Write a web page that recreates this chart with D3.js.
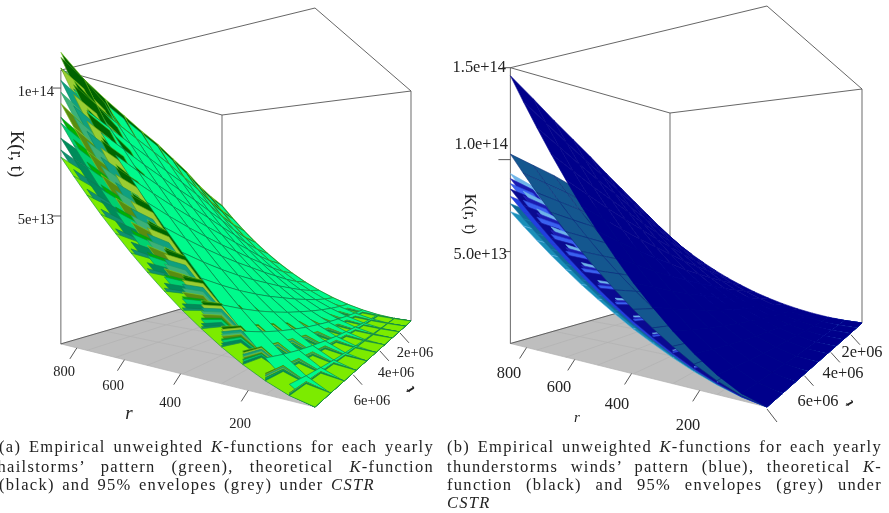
<!DOCTYPE html>
<html><head><meta charset="utf-8"><script src="https://d3js.org/d3.v7.min.js"></script>
<style>html,body{margin:0;padding:0;background:#fff}svg{display:block;filter:blur(.35px)}text{font-family:"Liberation Serif",serif;fill:#222}</style></head>
<body><svg id="c" width="889" height="513"></svg>
<script>
// axes
const rTicks=[800,600,400,200];
const tTicks=[2e6,4e6,6e6];
const rNodes=[35,95,155,215,275,335,395,455,515,575,635,695,755,815,875];
const tNodes=[0.5e6,1.25e6,2e6,2.75e6,3.5e6,4.25e6,5e6,5.75e6,6.5e6,7.25e6,8e6];
// share of K(r_max,t) reached at each r (rows: t nodes, columns: r nodes)
const shape=[
[0,.005,.02,.046,.082,.128,.184,.25,.327,.413,.51,.617,.735,.862,1],
[0,.006,.022,.05,.087,.134,.192,.259,.336,.423,.519,.625,.74,.866,1],
[0,.007,.025,.054,.093,.141,.2,.268,.345,.432,.528,.632,.746,.869,1],
[0,.008,.027,.058,.098,.149,.209,.277,.355,.442,.537,.64,.752,.872,1],
[0,.009,.03,.063,.105,.157,.218,.287,.365,.451,.546,.648,.758,.875,1],
[0,.01,.033,.068,.112,.165,.227,.297,.375,.461,.555,.656,.764,.878,1],
[0,.011,.036,.073,.119,.174,.237,.308,.386,.472,.565,.664,.77,.882,1],
[0,.013,.04,.079,.127,.183,.247,.318,.397,.482,.574,.672,.776,.885,1],
[0,.015,.044,.085,.135,.193,.258,.33,.408,.493,.584,.68,.782,.888,1],
[0,.017,.049,.092,.143,.203,.269,.342,.42,.504,.594,.688,.788,.892,1],
[0,.019,.054,.099,.153,.214,.28,.354,.432,.515,.604,.696,.794,.895,1]];
// same, for the bright surface, which rises earlier at small r
const shapeBright=[
[0,.005,.02,.046,.082,.128,.184,.25,.327,.413,.51,.617,.735,.862,1],
[0,.006,.024,.052,.09,.138,.197,.264,.341,.428,.525,.629,.744,.868,1],
[0,.008,.028,.059,.1,.15,.211,.279,.357,.443,.539,.642,.753,.873,1],
[0,.01,.033,.067,.11,.163,.225,.295,.373,.459,.554,.654,.763,.878,1],
[0,.012,.038,.075,.122,.177,.241,.312,.39,.476,.569,.667,.772,.883,1],
[0,.015,.044,.085,.135,.193,.258,.33,.408,.493,.584,.68,.782,.888,1],
[0,.018,.052,.096,.149,.209,.276,.349,.427,.511,.6,.693,.791,.894,1],
[0,.022,.061,.109,.165,.227,.295,.369,.447,.529,.616,.707,.801,.899,1],
[0,.028,.071,.123,.182,.246,.316,.39,.467,.548,.633,.72,.811,.904,1],
[0,.034,.083,.139,.201,.268,.338,.412,.488,.568,.65,.735,.821,.91,1],
[0,.042,.097,.158,.222,.291,.362,.435,.511,.589,.668,.749,.831,.915,1]];
// K at r_max for each t node, units 1e14, one list per yearly surface
const hail1=[.19,.21,.24,.28,.32,.39,.46,.55,.62,.68,.73];
const hail2=[.20,.22,.25,.29,.33,.40,.48,.57,.64,.70,.758];
const hail3=[.21,.23,.27,.31,.35,.43,.51,.60,.68,.75,.804];
const hail4=[.22,.25,.28,.33,.38,.46,.54,.65,.73,.80,.863];
const hail5=[.23,.26,.29,.34,.39,.47,.56,.66,.75,.82,.886];
const hail6=[.24,.27,.31,.36,.41,.50,.59,.71,.80,.87,.94];
const hail7=[.26,.29,.32,.37,.43,.52,.62,.74,.84,.92,.984];
const hail8=[.27,.30,.34,.40,.47,.57,.68,.80,.90,.97,1.03];
const hail9=[.28,.31,.36,.42,.51,.62,.73,.85,.95,1.02,1.078];
const hail10=[.30,.33,.38,.45,.54,.65,.77,.88,.98,1.06,1.12];
const hail11=[.535,.58,.64,.71,.77,.83,.88,.93,.98,1.03,1.078];
const hail12=[.54,.59,.65,.72,.78,.84,.89,.945,1.0,1.06,1.14];
const hailSeries=[hail12,hail11,hail10,hail9,hail8,hail7,hail6,hail5,hail4,hail3,hail2,hail1];
const hailTable=[shape,shapeBright,shape,shape,shape,shape,shape,shape,shape,shape,shape,shape];
const hailFill=["#006400","#00FA8C","#006400","#9ACD32","#10A080","#3CB078","#5a8c10","#00B000","#00D070","#008B5A","#0f9070","#7CEB00"];
const hailLine=["#7fd020","#0b7a4a","#4a9a10","#6aa010","#0a8a60","#20a060","#7fc820","#0a8a30","#0a8a50","#0a7a50","#0a7a50","#0f8f3c"];
const wind1=[.22,.27,.32,.37,.42,.47,.52,.57,.62,.67,.717];
const wind2=[.23,.28,.34,.39,.45,.50,.56,.61,.66,.71,.76];
const wind3=[.24,.30,.36,.41,.47,.53,.59,.64,.70,.75,.80];
const wind4=[.25,.31,.37,.43,.49,.55,.61,.67,.73,.79,.84];
const wind5=[.26,.32,.39,.45,.51,.58,.64,.70,.76,.82,.87];
const wind6=[.27,.33,.40,.46,.53,.59,.66,.72,.78,.84,.897];
const wind7=[.27,.34,.41,.48,.54,.61,.67,.74,.80,.86,.924];
const wind8=[.15,.18,.22,.28,.46,.66,.78,.87,.93,.98,1.03];
const wind9=[.495,.59,.685,.78,.875,.97,1.07,1.165,1.26,1.36,1.456];
const windSeries=[wind7,wind1,wind2,wind6,wind3,wind5,wind4,wind8,wind9];
const windTable=[shape,shape,shape,shape,shape,shape,shape,shape,shape];
const windFill=["#6db4ea","#1a8fb8","#0e6a9a","#1a1ab0","#2040e0","#3a60f0","#0a0a90","#14578f","#00008b"];
const windLine=["#6db4ea","#5ab0e0","#1a7aa8","#2a2ac0","#2a3ad0","#2a4ad8","#1a1aa0","#0b2f7a","#00008b"];

const svg=d3.select("#c");
function panel(o){
  const g=svg.append("g");
  const su=d3.scaleLinear().domain([35,875]).range([0,1]);
  const sv=d3.scaleLinear().domain([0.5e6,8e6]).range([0,1]);
  const sz=d3.scaleLinear().domain([0,o.zMax]).range([0,1]);
  const wD=1/o.D[2],wC=1/o.C[2],wB=1/o.B[2];
  const W=(u,v)=>wD*(1-u-v)+wC*v+wB*u;
  const P=(r,t,k)=>{const u=su(r),v=sv(t),w=W(u,v),a=wD*(1-u-v),b=wC*v,c=wB*u;
    const x=(a*o.D[0]+b*o.C[0]+c*o.B[0])/w,y=(a*o.D[1]+b*o.C[1]+c*o.B[1])/w;
    return [x,y-sz(k)/w];};
  const line=d3.line();
  const r0=rNodes[0],r1=rNodes[14],t0=tNodes[0],t1=tNodes[10];
  // floor
  g.append("path").attr("d",line([P(r0,t0,0),P(r1,t0,0),P(r1,t1,0),P(r0,t1,0)])+"Z").attr("fill","#bebebe");
  rNodes.filter((d,i)=>i%2==0).forEach(r=>g.append("path").attr("d",line([P(r,t0,0),P(r,t1,0)])).attr("stroke","#b2b2b2").attr("stroke-width",.7).attr("fill","none"));
  tNodes.filter((d,i)=>i%2==0).forEach(t=>g.append("path").attr("d",line([P(r0,t,0),P(r1,t,0)])).attr("stroke","#b2b2b2").attr("stroke-width",.7).attr("fill","none"));
  // box
  const zt=o.zMax;
  [[[r1,t1,0],[r1,t1,zt]],[[r1,t0,0],[r1,t0,zt]],[[r0,t0,0],[r0,t0,zt]]].forEach(s=>g.append("path").attr("d",line(s.map(p=>P(...p)))).attr("stroke","#777").attr("stroke-width",1.1).attr("fill","none"));
  g.append("path").attr("d",line([[r1,t1,zt],[r0,t1,zt],[r0,t0,zt],[r1,t0,zt],[r1,t1,zt]].map(p=>P(...p)))).attr("stroke","#555").attr("stroke-width",.9).attr("fill","none");
  g.append("path").attr("d",line([P(r1,t1,0),P(r1,t0,0)])).attr("stroke","#555").attr("stroke-width",.9).attr("fill","none");
  // cells
  const cells=[];
  o.series.forEach((amp,s)=>{for(let j=0;j<10;j++)for(let i=0;i<14;i++){
    const K=(ii,jj)=>amp[jj]*o.table[s][jj][ii]*1e14;
    const corners=[[i,j],[i+1,j],[i+1,j+1],[i,j+1]].map(([a,b])=>P(rNodes[a],tNodes[b],K(a,b)));
    const u=su((rNodes[i]+rNodes[i+1])/2),v=sv((tNodes[j]+tNodes[j+1])/2);
    cells.push({d:W(u,v),s,corners});
  }});
  cells.sort((a,b)=>d3.descending(a.d,b.d)||a.s-b.s);
  g.append("g").selectAll("path").data(cells).join("path")
    .attr("d",c=>line(c.corners)+"Z").attr("fill",c=>o.fill[c.s]).attr("stroke",c=>o.stroke[c.s]).attr("stroke-width",.6).attr("stroke-linejoin","round");
  // z ticks
  o.zTicks.forEach(d=>{const p=P(r1,t1,d.v);const p2=[p[0],p[1]+(d.dy||0)];
    g.append("path").attr("d",line([[p2[0]-(d.len||10),p2[1]],p2])).attr("stroke","#444").attr("stroke-width",.9);
    g.append("text").attr("x",d.x).attr("y",d.y).attr("text-anchor","end").attr("font-size",o.fs).text(d.l);});
  // r ticks
  rTicks.forEach((r,i)=>{const p=P(r,t1,0);
    g.append("path").attr("d",line([[p[0],p[1]],[p[0]-7,p[1]+11]])).attr("stroke","#444").attr("stroke-width",.9);
    g.append("text").attr("x",o.rLab[i][0]).attr("y",o.rLab[i][1]+5).attr("text-anchor","middle").attr("font-size",o.fs).text(r);});
  tTicks.forEach((t,i)=>{const p=P(r0,t,0);
    g.append("path").attr("d",line([[p[0]+1,p[1]+1],[p[0]+10,p[1]+11]])).attr("stroke","#444").attr("stroke-width",.9);
    g.append("text").attr("x",o.tLab[i][0]).attr("y",o.tLab[i][1]+5).attr("text-anchor","middle").attr("font-size",o.fs).text(d3.format(".0e")(t).replace("e+6","e+06"));});
  if(o.extra){const p=P(r0,t1,0);g.append("path").attr("d",line([[p[0],p[1]+2],[p[0]+10,p[1]+15]])).attr("stroke","#444").attr("stroke-width",.9);}
  g.append("text").attr("transform",`translate(${o.kLab[0]},${o.kLab[1]}) rotate(90)`).attr("text-anchor","middle").attr("font-size",o.kLab[2]).text("K(r, t)");
  g.append("text").attr("x",o.rT[0]).attr("y",o.rT[1]+5).attr("text-anchor","middle").attr("font-style","italic").attr("font-size",o.rT[2]).text("r");
  g.append("text").attr("transform",`translate(${o.tT[0]},${o.tT[1]}) rotate(-130)`).attr("text-anchor","middle").attr("dominant-baseline","middle").attr("font-style","italic").attr("font-weight","bold").attr("font-size",o.tT[2]).text("t");
}
panel({zMax:1.07e14,fs:14.5,A:[62,345,277],B:[222,297,182],C:[315,407,399],D:[411,321,230],series:hailSeries,table:hailTable,fill:hailFill,stroke:hailLine,
 zTicks:[{v:1e14,l:"1e+14",x:54,y:96,len:8},{v:5e13,l:"5e+13",x:54,y:224,len:8}],
 rLab:[[64,371],[113,385],[170,402],[240,423]],tLab:[[415,352],[396,372],[372,400]],kLab:[11,154,19],rT:[129,414,19],tT:[411,389,15]});
panel({zMax:1.5e14,fs:16.4,A:[508,345,276],B:[670,298,185],C:[767,407,401],D:[862,323,234],series:windSeries,table:windTable,fill:windFill,stroke:windLine,extra:true,
 zTicks:[{v:1.5e14,l:"1.5e+14",x:506,y:72,len:8},{v:1e14,l:"1.0e+14",x:508,y:149,len:12},{v:5e13,l:"5.0e+13",x:507,y:259,len:6}],
 rLab:[[509,373],[559,387],[617,404],[688,425]],tLab:[[862,352],[843,373],[818,401]],kLab:[465,214,16.5],rT:[577,417,15],tT:[850,403,14]});
// captions
const capLines=[
 {x:-1,w:435,y:452,p:[["(a) Empirical unweighted ",0],["K",1],["-functions for each yearly",0]]},
 {x:-2.5,w:436.5,y:472,p:[["hailstorms’ pattern (green), theoretical ",0],["K",1],["-function",0]]},
 {x:-1,y:490,p:[["(black) and 95% envelopes (grey) under ",0],["CSTR",1]]},
 {x:447,w:435,y:452,p:[["(b) Empirical unweighted ",0],["K",1],["-functions for each yearly",0]]},
 {x:447,w:435,y:472,p:[["thunderstorms winds’ pattern (blue), theoretical ",0],["K",1],["-",0]]},
 {x:447,w:435,y:490,p:[["function (black) and 95% envelopes (grey) under",0]]},
 {x:447,y:508,p:[["CSTR",1]]}];
capLines.forEach(l=>{const t=svg.append("text").attr("x",l.x).attr("y",l.y).attr("font-size",16.5).style("letter-spacing","1.3px").style("word-spacing","2px");
  l.p.forEach(([s,i])=>t.append("tspan").attr("font-style",i?"italic":"normal").text(s));
  const n=t.node();
  if(l.w){const len=n.getComputedTextLength();const sp=l.p.map(q=>q[0]).join("").split(" ").length-1;t.style("word-spacing",(2+(l.w-len)/sp)+"px");}
});
</script></body></html>
